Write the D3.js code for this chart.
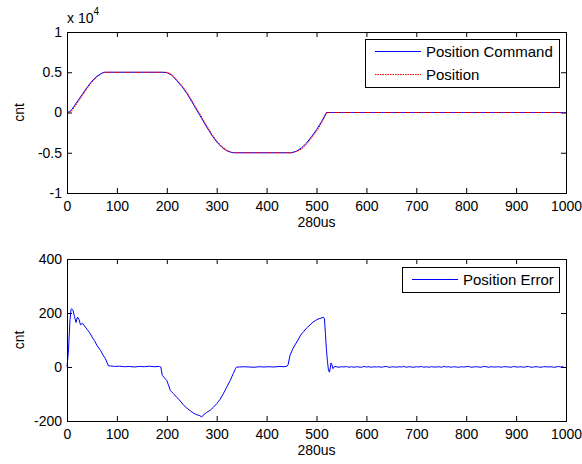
<!DOCTYPE html>
<html>
<head>
<meta charset="utf-8">
<script src="https://cdn.jsdelivr.net/npm/d3@7"></script>
<style>
  body { margin: 0; background: #fff; }
  svg { display: block; font-family: "Liberation Sans", Arial, sans-serif; }
  .tick text { font-size: 14px; fill: #000; }
  .tick line { stroke: #000; }
</style>
</head>
<body>
<svg id="chart" width="582" height="464"></svg>
<script>
// x axis shared by both panels (sample index, 280us per step)
const xTicks = [0, 100, 200, 300, 400, 500, 600, 700, 800, 900, 1000];

// top panel: position command / position, in cnt
const yTicksTop = [-10000, -5000, 0, 5000, 10000];
const yTickLabelsTop = ["-1", "-0.5", "0", "0.5", "1"];
const tCmd = [0, 5, 10, 20, 30, 40, 50, 60, 70, 75, 190, 200, 210, 220, 230, 240, 250, 260, 270,
  280, 290, 300, 310, 320, 330, 335, 450, 460, 470, 480, 490, 500, 510, 520, 1000];
const posCommand = [0, 100, 400, 1300, 2200, 3100, 3900, 4500, 4900, 5000, 5000, 4950, 4650, 3950,
  3250, 2400, 1350, 300, -750, -1800, -2800, -3650, -4300, -4750, -4970, -5000, -5000, -4800,
  -4400, -3800, -3000, -2150, -1150, 0, 0];
const tPos = [0, 5, 10, 20, 30, 40, 50, 60, 70, 75, 80, 190, 200, 210, 220, 230, 240, 250, 260, 270,
  280, 290, 300, 310, 320, 330, 335, 340, 450, 460, 470, 480, 490, 500, 510, 520, 525, 1000];
const position = [0, 20, 220, 1120, 2040, 2960, 3780, 4420, 4860, 4980, 5000, 5000, 5000, 4730,
  4060, 3380, 2550, 1520, 480, -570, -1630, -2650, -3520, -4200, -4680, -4950, -4990, -5000,
  -5000, -4860, -4530, -3950, -3170, -2330, -1330, -80, 0, 0];

// bottom panel: position error, in cnt
const yTicksBot = [-200, 0, 200, 400];
const yTickLabelsBot = ["-200", "0", "200", "400"];
const tErr = [0, 3, 6, 8, 9, 12, 15, 18, 21, 24, 27, 31, 35, 40, 45, 50, 55, 60, 67, 72, 77, 83, 87,
  95, 105, 115, 125, 135, 145, 155, 165, 175, 185, 188, 191, 196, 200, 204, 207, 213, 220, 227, 233,
  240, 247, 253, 260, 265, 270, 275, 280, 287, 293, 300, 307, 313, 320, 327, 333, 338, 340, 345,
  355, 365, 375, 385, 395, 405, 415, 425, 435, 441, 443, 447, 453, 458, 463, 468, 474, 480, 487,
  493, 500, 507, 514, 516, 518, 520, 522, 524, 526, 528, 529, 531, 533, 535, 537,
  545, 550, 555, 560, 565, 570, 575, 580, 585, 590, 595, 600, 605, 610, 615, 620, 625, 630, 635,
  640, 645, 650, 655, 660, 665, 670, 675, 680, 685, 690, 695, 700, 705, 710, 715, 720, 725, 730,
  735, 740, 745, 750, 755, 760, 765, 770, 775, 780, 785, 790, 795, 800, 805, 810, 815, 820, 825,
  830, 835, 840, 845, 850, 855, 860, 865, 870, 875, 880, 885, 890, 895, 900, 905, 910, 915, 920,
  925, 930, 935, 940, 945, 950, 955, 960, 965, 970, 975, 980, 985, 990, 995, 1000];
const posError = [0, 62, 175, 212, 216, 210, 187, 165, 185, 177, 156, 162, 152, 140, 128, 112, 98,
  80, 62, 45, 31, 4, 4, 2, 3, 1, 2, 0, 2, 1, 3, 1, 2, 0, -31, -42, -50, -70, -87, -98, -112, -126,
  -140, -152, -162, -170, -177, -179, -185, -175, -168, -160, -150, -136, -119, -100, -75, -50,
  -25, -5, 0, 0, 1, 0, -1, 1, 0, 1, 0, 2, 1, 3, 8, 44, 69, 85, 100, 118, 131, 144, 156, 166, 175,
  180, 184, 178, 120, 62, 20, -12, -19, 0, 15, 8, -6, 0, 2,
  -1, 1, 0, 2, -1, 1, -1, 1, 0, -1, 2, 0, 1, -1, 1, 0, 1, -1, 1, 2, -1, 0, 1, -1, 1, 0, 2,
  -1, 1, 0, -1, 1, 0, 2, -1, 1, -1, 1, 0, 0, 1, -1, 2, 0, 1, -1, 1, 0, -1, 1, 0, 1, 2, -1,
  0, 1, 0, -1, 2, 1, -1, 1, 0, 0, 1, -1, 1, 1, 0, -1, 2, 0, 0, 1, -1, 1, 2, -1, 0, 1, 0,
  -1, 1, 1, 0, 1, -1, 0, 2, 0, 1];

const svg = d3.select("#chart");
const left = 67, right = 566;
const x = d3.scaleLinear().domain([0, 1000]).range([left, right]);

function panel(top, bottom, yDomain, yTicks, yLabels) {
  const y = d3.scaleLinear().domain(yDomain).range([bottom, top]);
  const g = svg.append("g");

  // MATLAB style box with inward ticks on all sides
  g.append("g").attr("transform", `translate(0,${bottom})`)
    .call(d3.axisBottom(x).tickValues(xTicks).tickFormat(d3.format("d"))
      .tickSize(-5).tickPadding(8));
  g.append("g").attr("transform", `translate(0,${top})`)
    .call(d3.axisTop(x).tickValues(xTicks).tickFormat("").tickSize(-5));
  g.append("g").attr("transform", `translate(${left},0)`)
    .call(d3.axisLeft(y).tickValues(yTicks).tickFormat((d, i) => yLabels[i])
      .tickSize(-5).tickPadding(5));
  g.append("g").attr("transform", `translate(${right},0)`)
    .call(d3.axisRight(y).tickValues(yTicks).tickFormat("").tickSize(-5));
  g.selectAll(".domain").remove();
  g.selectAll("text").attr("font-family", null).attr("font-size", null);

  g.append("text")
    .attr("transform", `translate(24,${(top + bottom) / 2}) rotate(-90)`)
    .attr("text-anchor", "middle").style("font-size", "14px").text("cnt");
  g.append("text")
    .attr("x", (left + right) / 2).attr("y", bottom + 34)
    .attr("text-anchor", "middle").style("font-size", "14px").text("280us");

  return { g, y, top, bottom };
}

function drawLine(p, ts, vs, color, dash) {
  const line = d3.line().x(d => x(d[0])).y(d => p.y(d[1]));
  p.g.append("path")
    .datum(d3.zip(ts, vs))
    .attr("d", line)
    .attr("fill", "none")
    .attr("stroke", color)
    .attr("stroke-width", 1)
    .attr("stroke-dasharray", dash || null);
}

function frame(p) {
  p.g.append("rect")
    .attr("x", left).attr("y", p.top)
    .attr("width", right - left).attr("height", p.bottom - p.top)
    .attr("fill", "none").attr("stroke", "#000").attr("stroke-width", 1)
    .attr("shape-rendering", "crispEdges");
}

function legend(p, x0, y0, w, items) {
  const h = items.length * 23 + 2;
  const lg = p.g.append("g");
  lg.append("rect").attr("x", x0).attr("y", y0).attr("width", w).attr("height", h)
    .attr("fill", "#fff").attr("stroke", "#000").attr("shape-rendering", "crispEdges");
  items.forEach((it, i) => {
    const yy = y0 + 12.5 + i * 23;
    lg.append("line").attr("x1", x0 + 10).attr("x2", x0 + 56).attr("y1", yy).attr("y2", yy)
      .attr("stroke", it.color).attr("stroke-dasharray", it.dash || null);
    lg.append("text").attr("x", x0 + 61).attr("y", yy + 5.5)
      .style("font-size", "15px").text(it.name);
  });
}

// top panel
const p1 = panel(32, 193, [-10000, 10000], yTicksTop, yTickLabelsTop);
drawLine(p1, tCmd, posCommand, "#0000ff");
drawLine(p1, tPos, position, "#ff0000", "1.5,1");
frame(p1);
legend(p1, 365, 39, 194, [
  { name: "Position Command", color: "#0000ff" },
  { name: "Position", color: "#ff0000", dash: "1.5,1" }
]);
const expo = p1.g.append("text").attr("x", 67).attr("y", 23).style("font-size", "14px");
expo.append("tspan").text("x 10");
expo.append("tspan").attr("dy", -8).style("font-size", "10px").text("4");

// bottom panel
const p2 = panel(259, 421, [-200, 400], yTicksBot, yTickLabelsBot);
drawLine(p2, tErr, posError, "#0000ff");
frame(p2);
legend(p2, 402, 267, 157, [{ name: "Position Error", color: "#0000ff" }]);
</script>
</body>
</html>
